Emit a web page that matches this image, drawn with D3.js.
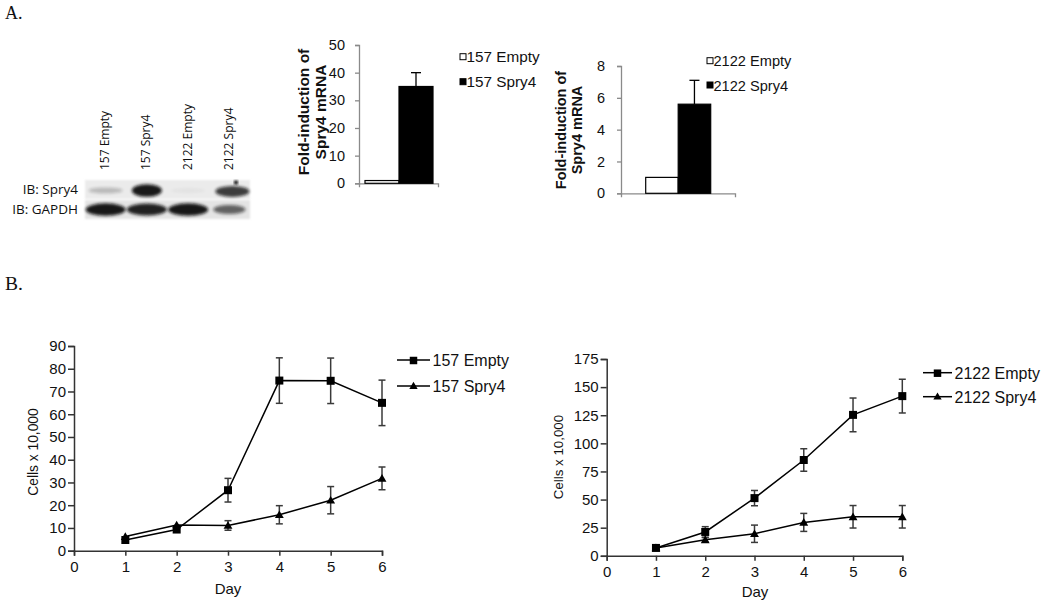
<!DOCTYPE html>
<html><head><meta charset="utf-8">
<script src="https://cdn.jsdelivr.net/npm/d3@7"></script>
<style>
body{margin:0;background:#fff}
svg text{font-family:"Liberation Sans",Arial,sans-serif;fill:#111}
</style></head><body>
<svg id="fig" width="1050" height="609"></svg>
<script>
// ---------- DATA ----------
const blotLanes = ["157 Empty", "157 Spry4", "2122 Empty", "2122 Spry4"];
const blotRows = ["IB: Spry4", "IB: GAPDH"];
const spry4Band = [0.22, 0.95, 0.04, 0.78];
const gapdhBand = [0.95, 0.9, 0.95, 0.6];

const barCats157 = ["157 Empty", "157 Spry4"];
const barVals157 = [1, 35];
const barErr157 = [0, 5];
const barTicks157 = [0, 10, 20, 30, 40, 50];

const barCats2122 = ["2122 Empty", "2122 Spry4"];
const barVals2122 = [1, 5.6];
const barErr2122 = [0, 1.5];
const barTicks2122 = [0, 2, 4, 6, 8];

const days = [1, 2, 3, 4, 5, 6];
const dayTicks = [0, 1, 2, 3, 4, 5, 6];
const cells157Empty = [4.7, 9.3, 26.6, 74.8, 74.7, 65];
const err157Empty = [0, 0, 5.2, 10, 10, 10];
const cells157Spry4 = [6.2, 11.3, 11.1, 15.8, 22.2, 31.8];
const err157Spry4 = [0, 0, 2.1, 4, 6, 5];
const ticks157 = [0, 10, 20, 30, 40, 50, 60, 70, 80, 90];

const cells2122Empty = [7, 21.2, 51.3, 85.2, 125.3, 142];
const err2122Empty = [0, 4.7, 6.8, 10, 15, 15];
const cells2122Spry4 = [7, 14.2, 19.6, 29.7, 34.7, 34.7];
const err2122Spry4 = [0, 2, 7.7, 8, 10, 10];
const ticks2122 = [0, 25, 50, 75, 100, 125, 150, 175];

// ---------- SETUP ----------
const svg = d3.select("#fig");
const defs = svg.append("defs");
defs.append("filter").attr("id", "blur").attr("x", "-50%").attr("y", "-100%").attr("width", "200%").attr("height", "300%")
  .append("feGaussianBlur").attr("stdDeviation", 1.8);
defs.append("filter").attr("id", "blur2")
  .append("feGaussianBlur").attr("stdDeviation", 0.8);

svg.append("text").attr("x", 5).attr("y", 18.5).style("font-family", "'Liberation Serif','Times New Roman',serif")
  .style("font-size", "18px").text("A.");
svg.append("text").attr("x", 5).attr("y", 290).style("font-family", "'Liberation Serif','Times New Roman',serif")
  .style("font-size", "19.5px").text("B.");

// ---------- WESTERN BLOT ----------
(function () {
  const g = svg.append("g");
  const lx = d3.scaleBand().domain(blotLanes).range([85, 250]);
  const rowY = d3.scaleBand().domain(blotRows).range([180, 219]).paddingInner(0.06);
  g.selectAll("text.lane").data(blotLanes).join("text")
    .attr("transform", d => `translate(${lx(d) + lx.bandwidth() / 2 + 3.5},170) rotate(-90)`)
    .style("font-size", "12px").style("font-family", "'Open Sans','Liberation Sans',sans-serif")
    .attr("text-anchor", "start").text(d => d);
  g.selectAll("text.row").data(blotRows).join("text")
    .attr("x", 78).attr("y", d => rowY(d) + rowY.bandwidth() / 2 + 4.5)
    .attr("text-anchor", "end").style("font-size", "13.5px")
    .style("font-family", "'Open Sans','Liberation Sans',sans-serif").text(d => d);
  g.selectAll("rect.strip").data(blotRows).join("rect")
    .attr("x", 85).attr("width", 165).attr("y", d => rowY(d)).attr("height", rowY.bandwidth())
    .attr("fill", (d, i) => i === 0 ? "#ebebeb" : "#e4e4e4").attr("filter", "url(#blur2)");
  const yS = rowY(blotRows[0]) + rowY.bandwidth() / 2;
  g.selectAll("ellipse.s").data(spry4Band).join("ellipse")
    .attr("cx", (d, i) => lx(blotLanes[i]) + lx.bandwidth() / 2 + (i === 3 ? 3 : 0))
    .attr("cy", (d, i) => yS + (i === 3 ? 2 : 1))
    .attr("rx", (d, i) => i === 1 ? 15 : 17)
    .attr("ry", d => 2 + 4.5 * d)
    .attr("fill", "#111").attr("opacity", d => d).attr("filter", "url(#blur)");
  g.append("circle").attr("cx", 236).attr("cy", 182.5).attr("r", 2.2).attr("fill", "#222").attr("filter", "url(#blur2)");
  const yG = rowY(blotRows[1]) + rowY.bandwidth() / 2;
  g.selectAll("ellipse.g").data(gapdhBand).join("ellipse")
    .attr("cx", (d, i) => lx(blotLanes[i]) + lx.bandwidth() / 2)
    .attr("cy", yG)
    .attr("rx", (d, i) => i === 3 ? 16 : 20)
    .attr("ry", d => 1.5 + 5 * d)
    .attr("fill", "#111").attr("opacity", d => d).attr("filter", "url(#blur)");
})();

// ---------- BAR CHARTS ----------
function barChart(o) {
  const g = svg.append("g");
  const y = d3.scaleLinear().domain([0, o.ticks[o.ticks.length - 1]]).range([o.y0, o.y1]);
  const x = d3.scaleBand().domain(o.cats).range([o.bx0, o.bx1]);
  const xa = d3.scaleBand().domain(["g"]).range([o.ax, o.ax1]);
  const ya = g.append("g").attr("transform", `translate(${o.ax},0)`)
    .call(d3.axisLeft(y).tickValues(o.ticks).tickSize(4).tickSizeOuter(4).tickPadding(o.pad).tickFormat(d3.format("d")));
  const xaG = g.append("g").attr("transform", `translate(0,${o.y0})`)
    .call(d3.axisBottom(xa).tickValues([]).tickSizeOuter(4));
  [ya, xaG].forEach(a => {
    a.select(".domain").attr("stroke", "#8a8a8a").attr("stroke-width", 1.3);
    a.selectAll(".tick line").attr("stroke", "#8a8a8a").attr("stroke-width", 1.3);
    a.selectAll("text").style("font-size", o.tickFont + "px").style("font-family", "'Liberation Sans',Arial,sans-serif").attr("fill", "#111");
  });
  g.selectAll("rect.bar").data(o.vals).join("rect")
    .attr("x", (d, i) => x(o.cats[i])).attr("width", x.bandwidth())
    .attr("y", d => y(d)).attr("height", d => o.y0 - y(d))
    .attr("fill", (d, i) => i === 0 ? "#fff" : "#000").attr("stroke", "#000").attr("stroke-width", 1.2);
  const eg = g.selectAll("g.err").data(o.vals.map((v, i) => ({ v, e: o.errs[i], c: o.cats[i] })).filter(d => d.e > 0)).join("g");
  eg.append("line").attr("x1", d => x(d.c) + x.bandwidth() / 2).attr("x2", d => x(d.c) + x.bandwidth() / 2)
    .attr("y1", d => y(d.v)).attr("y2", d => y(d.v + d.e)).attr("stroke", "#000").attr("stroke-width", 1.3);
  eg.append("line").attr("x1", d => x(d.c) + x.bandwidth() / 2 - 5).attr("x2", d => x(d.c) + x.bandwidth() / 2 + 5)
    .attr("y1", d => y(d.v + d.e)).attr("y2", d => y(d.v + d.e)).attr("stroke", "#000").attr("stroke-width", 1.3);
  const t = g.append("text").attr("transform", `translate(${o.tx},${o.ty}) rotate(-90)`)
    .attr("text-anchor", "middle").style("font-weight", "bold").style("font-size", o.titleFont + "px");
  t.append("tspan").attr("x", 0).attr("y", 0).text("Fold-induction of");
  t.append("tspan").attr("x", 0).attr("y", o.lineGap).text("Spry4 mRNA");
  const lg = g.selectAll("g.leg").data(o.cats).join("g")
    .attr("transform", (d, i) => `translate(${o.lx},${o.ly + i * o.lstep})`);
  lg.append("rect").attr("x", 0).attr("y", -3).attr("width", 6).attr("height", 6)
    .attr("fill", (d, i) => i === 0 ? "#fff" : "#000").attr("stroke", "#000").attr("stroke-width", 1);
  lg.append("text").attr("x", 6.5).attr("y", 5.5).style("font-size", o.legFont + "px").text(d => d);
}

barChart({ cats: barCats157, vals: barVals157, errs: barErr157, ticks: barTicks157,
  y0: 183.3, y1: 45, ax: 359, ax1: 438, bx0: 365, bx1: 433, pad: 10, tickFont: 14.5,
  tx: 309, ty: 112, lineGap: 17, titleFont: 15.5,
  lx: 460, ly: 56.7, lstep: 25, legFont: 15.3 });

barChart({ cats: barCats2122, vals: barVals2122, errs: barErr2122, ticks: barTicks2122,
  y0: 193.3, y1: 66, ax: 621, ax1: 735, bx0: 645.7, bx1: 710.7, pad: 12, tickFont: 14.5,
  tx: 566, ty: 130, lineGap: 16, titleFont: 14.5,
  lx: 707, ly: 60.7, lstep: 24.3, legFont: 14.6 });

// ---------- LINE CHARTS ----------
function lineChart(o) {
  const g = svg.append("g");
  const x = d3.scaleLinear().domain([0, 6]).range([o.x0, o.x1]);
  const y = d3.scaleLinear().domain([0, o.ticks[o.ticks.length - 1]]).range([o.y0, o.y1]);
  const ya = g.append("g").attr("transform", `translate(${o.x0},0)`)
    .call(d3.axisLeft(y).tickValues(o.ticks).tickSize(6).tickSizeOuter(6).tickPadding(2).tickFormat(d3.format("d")));
  const xa = g.append("g").attr("transform", `translate(0,${o.y0})`)
    .call(d3.axisBottom(x).tickValues(dayTicks).tickSize(5).tickSizeOuter(5).tickPadding(6).tickFormat(d3.format("d")));
  [ya, xa].forEach(a => {
    a.select(".domain").attr("stroke", "#333").attr("stroke-width", 1.5);
    a.selectAll(".tick line").attr("stroke", "#333").attr("stroke-width", 1.5);
    a.selectAll("text").style("font-size", "15px").style("font-family", "'Liberation Sans',Arial,sans-serif").attr("fill", "#111");
  });
  g.append("text").attr("transform", `translate(${o.ytx},${o.yty}) rotate(-90)`).attr("text-anchor", "middle")
    .style("font-size", o.ytFont + "px").text("Cells x 10,000");
  g.append("text").attr("x", o.dx).attr("y", o.dy).attr("text-anchor", "middle").style("font-size", "15px").text("Day");

  const line = d3.line().x(d => x(d.d)).y(d => y(d.v));
  o.series.forEach(s => {
    const pts = days.map((d, i) => ({ d, v: s.vals[i], e: s.errs[i] }));
    const eb = g.append("g").selectAll("g").data(pts.filter(p => p.e > 0)).join("g")
      .attr("stroke", "#3a3a3a").attr("stroke-width", 1.5);
    eb.append("line").attr("x1", p => x(p.d)).attr("x2", p => x(p.d)).attr("y1", p => y(p.v - p.e)).attr("y2", p => y(p.v + p.e));
    eb.append("line").attr("x1", p => x(p.d) - 3.5).attr("x2", p => x(p.d) + 3.5).attr("y1", p => y(p.v + p.e)).attr("y2", p => y(p.v + p.e));
    eb.append("line").attr("x1", p => x(p.d) - 3.5).attr("x2", p => x(p.d) + 3.5).attr("y1", p => y(p.v - p.e)).attr("y2", p => y(p.v - p.e));
    g.append("path").datum(pts).attr("d", line).attr("fill", "none").attr("stroke", "#000").attr("stroke-width", 1.5);
  });
  o.series.forEach(s => {
    const sym = d3.symbol().type(s.marker === "square" ? d3.symbolSquare : d3.symbolTriangle).size(s.marker === "square" ? 64 : 34);
    g.append("g").selectAll("path").data(days.map((d, i) => ({ d, v: s.vals[i] }))).join("path")
      .attr("transform", p => `translate(${x(p.d)},${y(p.v) + (s.marker === "square" ? 0 : 0.8)})`)
      .attr("d", sym).attr("fill", "#000");
  });
  const lg = g.selectAll("g.leg").data(o.series).join("g")
    .attr("transform", (d, i) => `translate(${o.lx},${o.ly + i * o.lstep})`);
  lg.append("line").attr("x1", 0).attr("x2", o.llen).attr("y1", 0).attr("y2", 0).attr("stroke", "#000").attr("stroke-width", 1.5);
  lg.append("path").attr("transform", `translate(${o.llen / 2},0.5)`)
    .attr("d", s => d3.symbol().type(s.marker === "square" ? d3.symbolSquare : d3.symbolTriangle).size(s.marker === "square" ? 56 : 30)())
    .attr("fill", "#000");
  lg.append("text").attr("x", o.llen + 2.5).attr("y", 6).style("font-size", "16px").text(s => s.name);
}

lineChart({ x0: 74, x1: 382, y0: 550.7, y1: 346, ticks: ticks157,
  ytx: 38, yty: 452, ytFont: 13.8, dx: 228, dy: 594,
  lx: 397, ly: 360, lstep: 26, llen: 33,
  series: [
    { name: "157 Empty", vals: cells157Empty, errs: err157Empty, marker: "square" },
    { name: "157 Spry4", vals: cells157Spry4, errs: err157Spry4, marker: "triangle" }
  ] });

lineChart({ x0: 606.7, x1: 902.3, y0: 555.8, y1: 359, ticks: ticks2122,
  ytx: 563, yty: 457, ytFont: 13.3, dx: 755, dy: 597,
  lx: 923, ly: 372.7, lstep: 24, llen: 29,
  series: [
    { name: "2122 Empty", vals: cells2122Empty, errs: err2122Empty, marker: "square" },
    { name: "2122 Spry4", vals: cells2122Spry4, errs: err2122Spry4, marker: "triangle" }
  ] });
</script>
</body></html>
